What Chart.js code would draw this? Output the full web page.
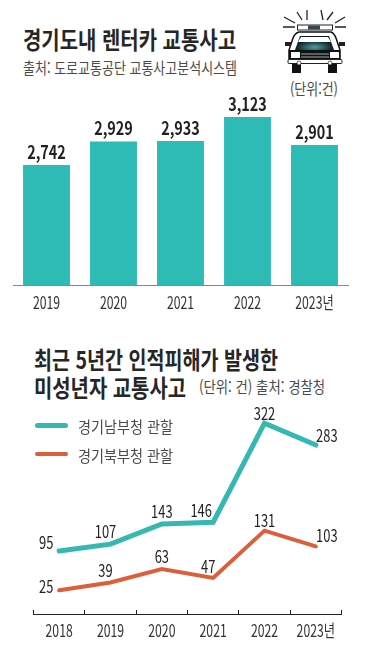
<!DOCTYPE html>
<html lang="ko">
<head>
<meta charset="utf-8">
<title>경기도내 렌터카 교통사고</title>
<script src="https://cdn.jsdelivr.net/npm/chart.js@4"></script>
<style>
  html, body { margin: 0; padding: 0; background: #fff; }
  #page { position: relative; width: 376px; height: 661px; overflow: hidden; font-family: "Noto Sans CJK KR", sans-serif; }
  canvas { position: absolute; left: 0; }
  .t { position: absolute; white-space: nowrap; transform-origin: left center; line-height: 1; color: #222; }
  .big { font-size: 24px; font-weight: 700; color: #262626; }
  .small { font-size: 16px; color: #4a4a4a; }
  .swatch { position: absolute; left: 35px; width: 33px; border-radius: 3px; }
  #car { position: absolute; left: 280px; top: 6px; }
</style>
</head>
<body>
<div id="page">
  <div class="t big" data-w="213" style="left:23px;top:27px">경기도내 렌터카 교통사고</div>
  <div class="t small" data-w="214" style="left:23px;top:59px">출처: 도로교통공단 교통사고분석시스템</div>

  <svg id="car" width="70" height="70" viewBox="280 6 70 70">
    <defs>
      <radialGradient id="glow" cx="50%" cy="80%" r="50%">
        <stop offset="0" stop-color="#4f9ea3"/><stop offset="1" stop-color="#0f1c1e"/>
      </radialGradient>
    </defs>
    <path d="M283 27H295M284 17L295 23M297 12L302 20M307 10V20M321 10L323 20M333 12L327 20M345 17L335 23M335 27H346" stroke="#222" stroke-width="1.3" fill="none"/>
    <rect x="297.5" y="25" width="35" height="5" fill="#fff" stroke="#222"/>
    <rect x="308" y="25.5" width="12" height="4" fill="#33494c"/>
    <rect x="292" y="64" width="9" height="9" fill="#111"/><rect x="328" y="64" width="9" height="9" fill="#111"/>
    <path d="M299 32H331Q334 33 336 38L340 50V60H289V50L293 38Q295 33 299 32Z" fill="#fff" stroke="#111" stroke-width="1.5"/>
    <path d="M300 36H329L334 50H295Z" fill="url(#glow)"/>
    <path d="M301 37H328L331 42H298Z" fill="#fff"/>
    <rect x="285" y="42" width="6" height="4" fill="#222"/><rect x="339" y="42" width="6" height="4" fill="#222"/>
    <rect x="289" y="50" width="51" height="10" fill="#111"/>
    <rect x="291" y="52" width="9" height="6" fill="#fff"/><rect x="330" y="52" width="9" height="6" fill="#fff"/>
    <path d="M301 54H329M301 57H329" stroke="#c6d2d2" stroke-width="0.8"/>
    <rect x="288" y="59.5" width="54" height="4" rx="1" fill="#fff" stroke="#222"/>
    <circle cx="299" cy="63" r="2" fill="#fff" stroke="#222" stroke-width="0.7"/><circle cx="330" cy="63" r="2" fill="#fff" stroke="#222" stroke-width="0.7"/>
  </svg>

  <div class="t small" data-w="48" style="left:290px;top:80px">(단위:건)</div>

  <canvas id="barChart" width="376" height="235" style="top:85px"></canvas>

  <div class="t big" data-w="244" style="left:34px;top:347px">최근 5년간 인적피해가 발생한</div>
  <div class="t big" data-w="152" style="left:34px;top:375px">미성년자 교통사고</div>
  <div class="t small" data-w="126" style="left:199px;top:378px">(단위: 건) 출처: 경찰청</div>

  <canvas id="lineChart" width="376" height="250" style="top:400px"></canvas>

  <div class="swatch" style="top:423px;height:5px;background:#35b8b3"></div>
  <div class="t small" data-w="95" style="left:78px;top:418px">경기남부청 관할</div>
  <div class="swatch" style="top:452px;height:4px;background:#dd5f39"></div>
  <div class="t small" data-w="95" style="left:78px;top:447px">경기북부청 관할</div>
</div>

<script>
/* ========= DATA ========= */
const barYears = ["2019", "2020", "2021", "2022", "2023년"];
const barValues = [2742, 2929, 2933, 3123, 2901];

const lineYears = ["2018", "2019", "2020", "2021", "2022", "2023년"];
const southValues = [95, 107, 143, 146, 322, 283];
const northValues = [25, 39, 63, 47, 131, 103];

/* label nudges from the point, by series */
const southNudge = [[-13, -8], [-5, -13], [0, -12], [-12, -12], [0, -10], [11, -10]];
const northNudge = [[-13, -4], [-5, -12], [0, -12], [-5, -11], [0, -10], [11, -11]];

const FONT = '"Noto Sans CJK KR", sans-serif';
const TEAL = "#35b8b3";
const ORANGE = "#dd5f39";

/* squeeze headings to the condensed width of the original */
document.querySelectorAll(".t[data-w]").forEach(el => {
  const w = el.getBoundingClientRect().width;
  el.style.transform = "scaleX(" + (el.dataset.w / w) + ")";
});

/* no condensed font is installed, so canvas text gets squeezed by hand */
function narrowText(ctx, text, x, y, squeeze) {
  ctx.save();
  ctx.translate(x, y);
  ctx.scale(squeeze, 1);
  ctx.fillText(text, 0, 0);
  ctx.restore();
}

function drawYears(chart, y) {
  const ctx = chart.ctx;
  const xs = chart.scales.x;
  ctx.save();
  ctx.font = "17px " + FONT;
  ctx.fillStyle = "#333";
  ctx.textAlign = "center";
  ctx.textBaseline = "middle";
  xs.ticks.forEach((tick, i) => {
    narrowText(ctx, xs.getLabelForValue(tick.value), xs.getPixelForTick(i), y, 0.72);
  });
  ctx.restore();
}

/* ========= VALUE LABELS ========= */
const barLabels = {
  id: "barLabels",
  afterDraw(chart) {
    const ctx = chart.ctx;
    ctx.save();
    ctx.font = "bold 18px " + FONT;
    ctx.fillStyle = "#222";
    ctx.textAlign = "center";
    ctx.textBaseline = "middle";
    chart.getDatasetMeta(0).data.forEach((bar, i) => {
      narrowText(ctx, barValues[i].toLocaleString("en-US"), bar.x, bar.y - 13, 0.8);
    });
    ctx.restore();
    drawYears(chart, chart.scales.x.bottom - 17);
  }
};

const lineLabels = {
  id: "lineLabels",
  afterDraw(chart) {
    const ctx = chart.ctx;
    ctx.save();
    ctx.font = "17px " + FONT;
    ctx.fillStyle = "#222";
    ctx.textAlign = "center";
    ctx.textBaseline = "middle";
    chart.data.datasets.forEach((ds, d) => {
      const nudge = d === 0 ? southNudge : northNudge;
      chart.getDatasetMeta(d).data.forEach((pt, i) => {
        narrowText(ctx, String(ds.data[i]), pt.x + nudge[i][0], pt.y + nudge[i][1], 0.76);
      });
    });
    ctx.restore();
    drawYears(chart, chart.scales.x.bottom - 19);
  }
};

/* ========= CHARTS ========= */
new Chart(document.getElementById("barChart"), {
  type: "bar",
  data: {
    labels: barYears,
    datasets: [{ data: barValues, backgroundColor: "#2fbbb5", barPercentage: 0.7, categoryPercentage: 1 }]
  },
  options: {
    responsive: false,
    animation: false,
    layout: { padding: { left: 13, right: 28, top: 0, bottom: 0 } },
    plugins: { legend: { display: false }, tooltip: { enabled: false } },
    scales: {
      y: { display: false, min: 1790, max: 3377 },
      x: {
        afterFit: s => { s.height = 35; },
        border: { color: "#888", width: 1 },
        grid: { display: false },
        ticks: { display: false, autoSkip: false }
      }
    }
  },
  plugins: [barLabels]
});

new Chart(document.getElementById("lineChart"), {
  type: "line",
  data: {
    labels: lineYears,
    datasets: [
      { label: "경기남부청 관할", data: southValues, borderColor: TEAL, borderWidth: 5, borderCapStyle: "round", borderJoinStyle: "miter", pointRadius: 0, tension: 0, fill: false },
      { label: "경기북부청 관할", data: northValues, borderColor: ORANGE, borderWidth: 4, borderCapStyle: "round", borderJoinStyle: "miter", pointRadius: 0, tension: 0, fill: false }
    ]
  },
  options: {
    responsive: false,
    animation: false,
    layout: { padding: { left: 33.5, right: 34.5, top: 0, bottom: 0 } },
    plugins: { legend: { display: false }, tooltip: { enabled: false } },
    scales: {
      y: { display: false, min: -17, max: 363 },
      x: {
        offset: true,
        afterFit: s => { s.height = 36; },
        border: { color: "#222", width: 1 },
        grid: { offset: true, drawOnChartArea: false, color: "#222", tickLength: -4 },
        ticks: { display: false, autoSkip: false }
      }
    }
  },
  plugins: [lineLabels]
});
</script>
</body>
</html>
